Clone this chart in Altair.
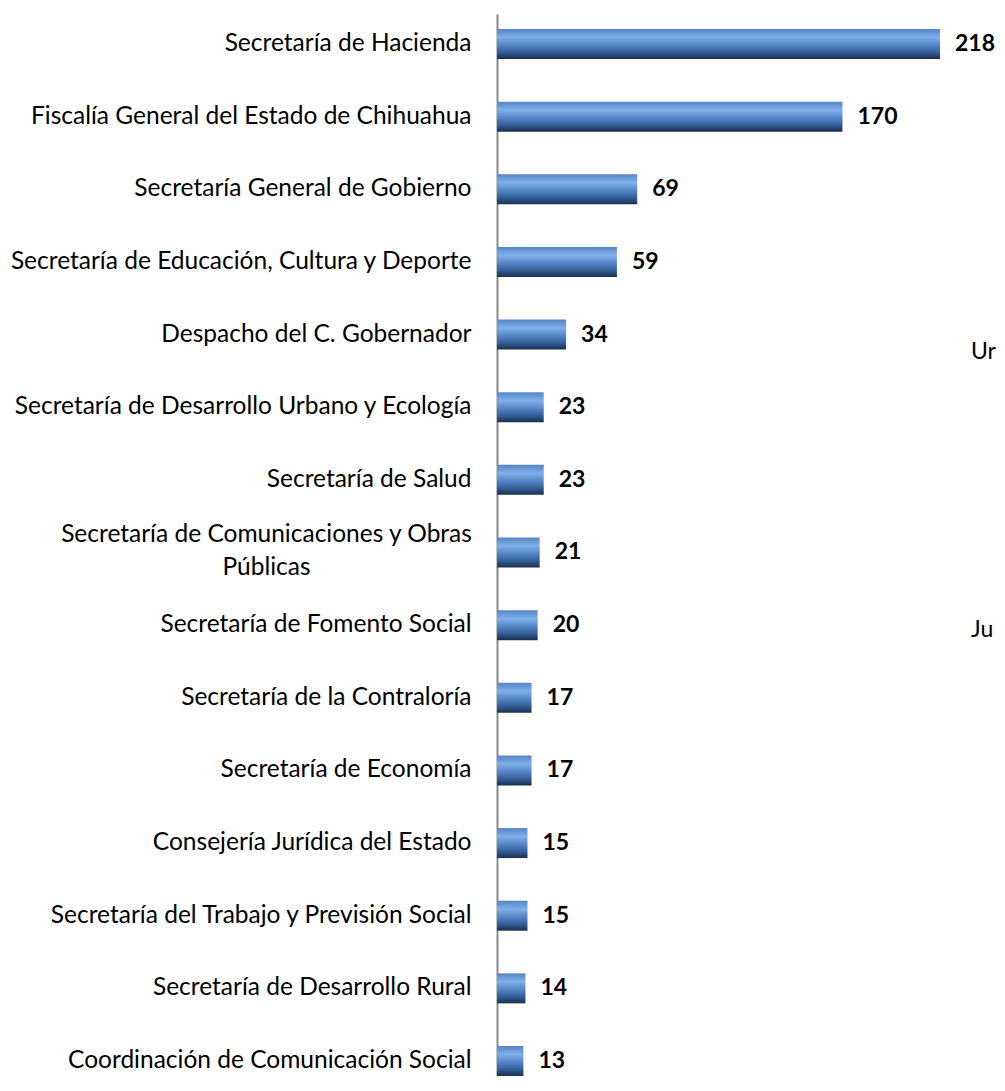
import altair as alt
import pandas as pd

categories = [
    "Secretaría de Hacienda",
    "Fiscalía General del Estado de Chihuahua",
    "Secretaría General de Gobierno",
    "Secretaría de Educación, Cultura y Deporte",
    "Despacho del C. Gobernador",
    "Secretaría de Desarrollo Urbano y Ecología",
    "Secretaría de Salud",
    "Secretaría de Comunicaciones y Obras|Públicas",
    "Secretaría de Fomento Social",
    "Secretaría de la Contraloría",
    "Secretaría de Economía",
    "Consejería Jurídica del Estado",
    "Secretaría del Trabajo y Previsión Social",
    "Secretaría de Desarrollo Rural",
    "Coordinación de Comunicación Social",
]
values = [218, 170, 69, 59, 34, 23, 23, 21, 20, 17, 17, 15, 15, 14, 13]
title_text = ["723 solicitudes formuladas"]
side_texts = ["Ur", "Ju"]

df = pd.DataFrame({"dep": categories, "n": values})

FONT = "Lato"

grad = {
    "gradient": "linear",
    "x1": 0, "y1": 0, "x2": 0, "y2": 1,
    "stops": [
        {"offset": 0.0, "color": "#5684c4"},
        {"offset": 0.28, "color": "#7fb0ea"},
        {"offset": 0.5, "color": "#5a8bcd"},
        {"offset": 0.78, "color": "#335f98"},
        {"offset": 1.0, "color": "#1a2f4d"},
    ],
}

wrapped = "indexof(datum.value, '|') >= 0"

y_enc = alt.Y(
    "dep:N",
    sort=None,
    scale=alt.Scale(paddingInner=0.587, paddingOuter=0.1032, align=1),
    axis=alt.Axis(
        title=None,
        ticks=False,
        domainColor="#8a8a8a",
        domainWidth=2,
        labelFont=FONT,
        labelFontSize=24.5,
        labelColor="#000000",
        labelPadding={"condition": {"test": wrapped, "value": 231}, "value": 26},
        labelAlign={"condition": {"test": wrapped, "value": "center"}, "value": "right"},
        labelOffset={"condition": {"test": wrapped, "value": -17}, "value": 0},
        labelLimit=0,
        labelLineHeight=33,
        labelExpr="split(datum.label, '|')",
    ),
)
x_enc = alt.X("n:Q", scale=alt.Scale(domain=[0, 246.05], nice=False), axis=None)

base = alt.Chart(df)
bars = base.mark_bar(color=grad).encode(y=y_enc, x=x_enc)
labels = base.mark_text(
    align="left", baseline="middle", dx=15, font=FONT, fontSize=23,
    fontWeight="bold", color="#000000",
).encode(y=alt.Y("dep:N", sort=None), x=alt.X("n:Q"), text="n:Q")

title = alt.Chart(pd.DataFrame({"t": title_text})).mark_text(
    align="center", baseline="alphabetic", font=FONT, fontSize=26,
    fontWeight="bold", color="#000000",
).encode(text="t:N", x=alt.value(20), y=alt.value(-9))

side1 = alt.Chart(pd.DataFrame({"t": [side_texts[0]]})).mark_text(
    align="left", baseline="middle", font=FONT, fontSize=23, color="#000000",
).encode(text="t:N", x=alt.value(474), y=alt.value(338))
side2 = alt.Chart(pd.DataFrame({"t": [side_texts[1]]})).mark_text(
    align="left", baseline="middle", font=FONT, fontSize=23, color="#000000",
).encode(text="t:N", x=alt.value(474), y=alt.value(616))

chart = (
    alt.layer(bars, labels, title, side1, side2)
    .properties(
        width=500,
        height=1062,
        autosize=alt.AutoSizeParams(type="none"),
        padding={"left": 489, "top": 6, "right": 0, "bottom": 0},
    )
    .configure_view(stroke=None)
)

chart.save("out.html", embed_options={"renderer": "svg", "actions": False})
